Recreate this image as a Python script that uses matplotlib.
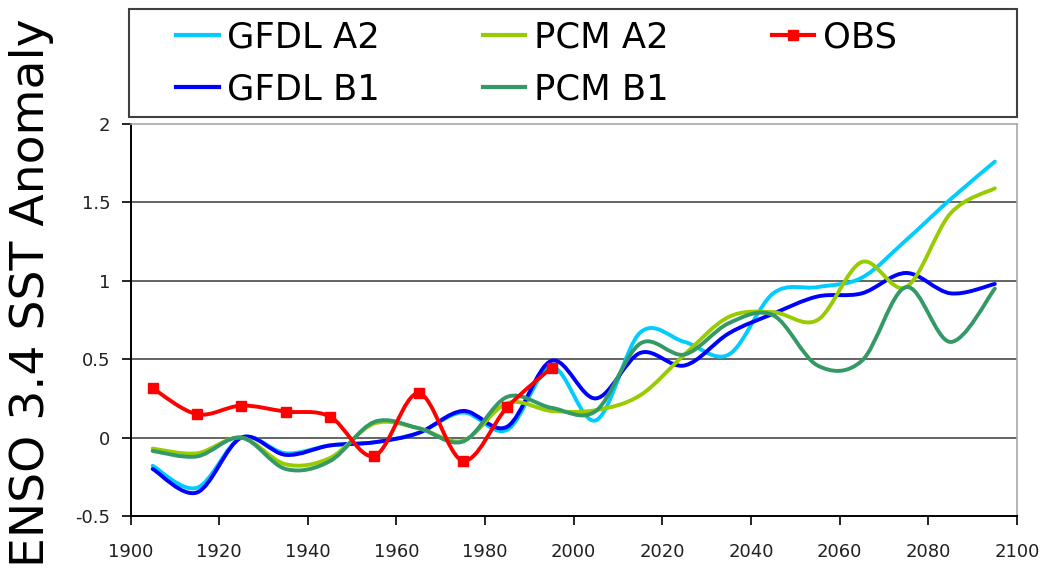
import numpy as np
import matplotlib
matplotlib.use("Agg")
import matplotlib.pyplot as plt
from matplotlib.path import Path
from matplotlib.patches import PathPatch, Rectangle
from matplotlib.lines import Line2D

# decadal values (centred on years ending in 5)
years = [1905, 1915, 1925, 1935, 1945, 1955, 1965, 1975, 1985, 1995,
         2005, 2015, 2025, 2035, 2045, 2055, 2065, 2075, 2085, 2095]
gfdl_a2 = [-0.18, -0.32, 0.00, -0.10, -0.05, -0.03, 0.03, 0.16, 0.05, 0.45,
           0.11, 0.67, 0.61, 0.53, 0.92, 0.96, 1.02, 1.26, 1.52, 1.76]
gfdl_b1 = [-0.20, -0.35, 0.00, -0.11, -0.05, -0.03, 0.03, 0.17, 0.07, 0.49,
           0.25, 0.54, 0.46, 0.665, 0.79, 0.90, 0.92, 1.05, 0.92, 0.98]
pcm_a2 = [-0.07, -0.10, 0.00, -0.17, -0.13, 0.09, 0.06, -0.02, 0.22, 0.17,
          0.175, 0.27, 0.53, 0.77, 0.80, 0.75, 1.12, 0.96, 1.43, 1.59]
pcm_b1 = [-0.085, -0.12, 0.00, -0.20, -0.15, 0.10, 0.06, -0.025, 0.26, 0.19,
          0.17, 0.60, 0.53, 0.73, 0.78, 0.46, 0.49, 0.96, 0.61, 0.95]

obs_years = [1905, 1915, 1925, 1935, 1945, 1955, 1965, 1975, 1985, 1995]
obs = [0.315, 0.149, 0.204, 0.166, 0.134, -0.117, 0.283, -0.147, 0.194, 0.446]

labels = ["GFDL A2", "GFDL B1", "PCM A2", "PCM B1", "OBS"]
colors = ["#00CCFF", "#0000FF", "#99CC00", "#339966", "#FF0000"]

x_ticks = list(range(1900, 2101, 20))
y_ticks = [-0.5, 0, 0.5, 1, 1.5, 2]


def smooth_path(xs, ys):
    # Excel style "smoothed line": cubic bezier through every point
    n = len(xs)
    verts = [(xs[0], ys[0])]
    codes = [Path.MOVETO]
    for i in range(n - 1):
        a = i - 1 if i > 0 else i
        d = i + 2 if i + 2 < n else i + 1
        c1 = (xs[i] + (xs[i + 1] - xs[a]) / 6.0, ys[i] + (ys[i + 1] - ys[a]) / 6.0)
        c2 = (xs[i + 1] - (xs[d] - xs[i]) / 6.0, ys[i + 1] - (ys[d] - ys[i]) / 6.0)
        verts += [c1, c2, (xs[i + 1], ys[i + 1])]
        codes += [Path.CURVE4] * 3
    return Path(verts, codes)


plt.rcParams['font.family'] = ['DejaVu Sans']
plt.rcParams['axes.unicode_minus'] = False

W, H = 1041, 571
fig = plt.figure(figsize=(W / 100, H / 100), dpi=100)
ax = fig.add_axes([130.5 / W, 1 - 516 / H, (1017 - 130.5) / W, (516 - 124) / H])

ax.set_xlim(1900, 2100)
ax.set_ylim(-0.5, 2)
ax.set_xticks(x_ticks)
ax.set_yticks(y_ticks)
ax.set_yticklabels(["-0.5", "0", "0.5", "1", "1.5", "2"])

for v in [0, 0.5, 1, 1.5]:
    ax.axhline(v, color="#4a4a4a", lw=1.2, zorder=1)

series = [gfdl_a2, gfdl_b1, pcm_a2, pcm_b1]
for vals, c in zip(series, colors[:4]):
    ax.add_patch(PathPatch(smooth_path(years, vals), facecolor="none",
                           edgecolor=c, lw=2.8, capstyle="round",
                           joinstyle="round", zorder=3))

ax.add_patch(PathPatch(smooth_path(obs_years, obs), facecolor="none",
                       edgecolor=colors[4], lw=2.8, capstyle="round",
                       joinstyle="round", zorder=4))
ax.plot(obs_years, obs, ls="none", marker="s", ms=7.2, color=colors[4], zorder=5)

for s in ["left", "bottom"]:
    ax.spines[s].set_color("black")
    ax.spines[s].set_linewidth(1.4)
for s in ["top", "right"]:
    ax.spines[s].set_color("#a8a8a8")
    ax.spines[s].set_linewidth(1.2)

ax.tick_params(axis="x", direction="out", length=6.5, width=1.2, pad=13,
               labelsize=13, colors="black", labelcolor="#202020")
ax.tick_params(axis="y", direction="out", length=6.5, width=1.2, pad=8,
               labelsize=13, colors="black", labelcolor="#202020")
ax.tick_params(top=False, right=False)

fig.text(31.5 / W, 1 - 293 / H, "ENSO 3.4 SST Anomaly", rotation=90,
         fontsize=34, ha="center", va="center", color="black")

# legend frame and entries
fig.patches.append(Rectangle((129 / W, 1 - 117 / H), (1017 - 129) / W, (117 - 9) / H,
                             transform=fig.transFigure, fill=False,
                             edgecolor="#404040", lw=1.5))
handles = [Line2D([], [], color=c, lw=3) for c in colors[:4]]
handles.append(Line2D([], [], color=colors[4], lw=3, marker="s", ms=7))
fig.legend(handles, labels, ncol=3, loc="upper left",
           bbox_to_anchor=(176 / W, 1 - 20 / H), frameon=False, borderpad=0,
           borderaxespad=0, fontsize=25.5, handlelength=1.2, handletextpad=0.25,
           columnspacing=2.9, labelspacing=0.52)

fig.savefig("out.png", dpi=100)
